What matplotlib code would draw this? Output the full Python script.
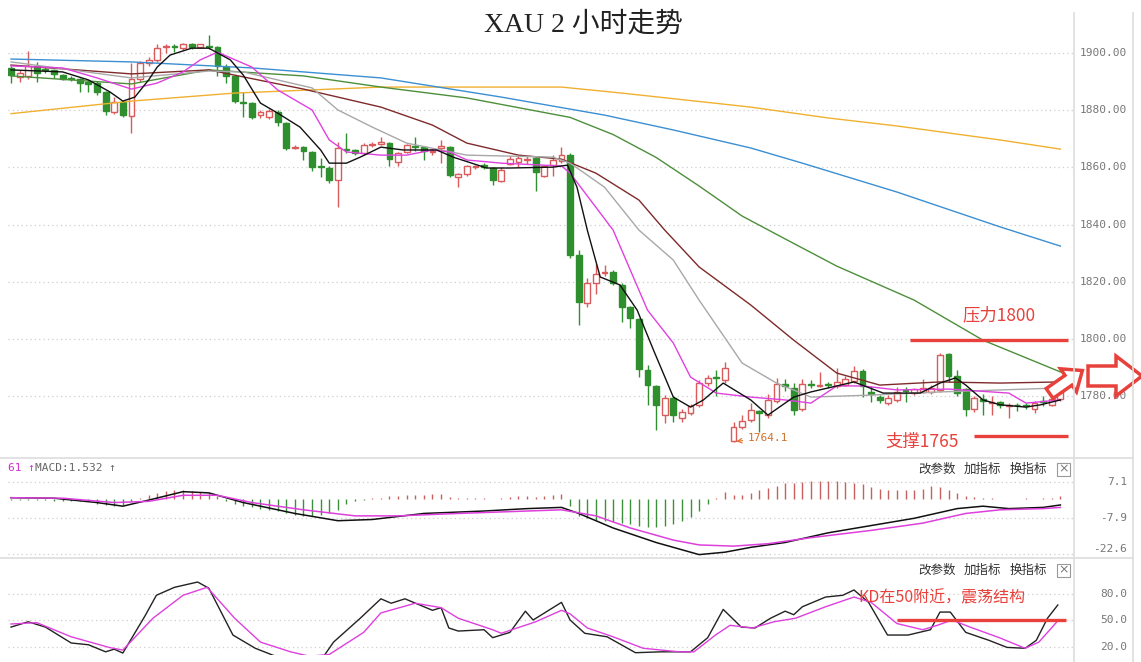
import numpy as np
import matplotlib.pyplot as plt
from matplotlib.patches import Polygon, Rectangle
from matplotlib.lines import Line2D
import matplotlib.transforms as mtransforms

# ---- candles (2h bars) ----
opens = [1894.8, 1891.5, 1892.0, 1895.5, 1894.2, 1894.0, 1892.3, 1891.2, 1890.9, 1889.9,
         1889.5, 1886.4, 1879.3, 1882.9, 1878.0, 1890.9, 1896.5, 1897.6, 1902.0, 1902.2,
         1901.7, 1903.1, 1902.1, 1902.3, 1902.1, 1895.2, 1891.8, 1883.0, 1882.6, 1878.3,
         1877.6, 1879.3, 1875.5, 1866.9, 1867.0, 1865.3, 1860.4, 1859.8, 1855.6, 1866.5,
         1866.1, 1865.0, 1867.8, 1868.2, 1868.5, 1862.0, 1865.3, 1867.4, 1867.1, 1865.5,
         1866.7, 1867.1, 1856.8, 1857.6, 1860.0, 1861.0, 1859.8, 1855.3, 1861.2, 1861.9,
         1862.6, 1863.2, 1857.0, 1860.8, 1862.3, 1864.5, 1829.4, 1812.6, 1819.6, 1823.2,
         1823.5, 1818.9, 1811.2, 1807.0, 1789.1, 1783.7, 1773.4, 1779.4, 1772.4, 1774.1,
         1777.0, 1784.7, 1786.6, 1785.7, 1764.3, 1769.2, 1771.7, 1774.8, 1773.4, 1778.4,
         1784.4, 1782.9, 1775.5, 1784.4, 1783.7, 1784.4, 1783.7, 1783.9, 1785.3, 1788.8,
         1781.6, 1779.7, 1777.6, 1778.7, 1782.3, 1781.2, 1781.6, 1781.5, 1782.3, 1794.8,
         1787.1, 1782.6, 1775.5, 1779.0, 1777.5, 1778.0, 1776.5, 1777.1, 1777.0, 1775.5,
         1778.3, 1777.0, 1779.0]
highs = [1895.5, 1894.0, 1900.8, 1897.0, 1895.0, 1894.5, 1892.8, 1891.8, 1891.2, 1890.5,
         1890.2, 1886.8, 1884.6, 1883.6, 1896.5, 1897.3, 1898.5, 1903.1, 1903.1, 1903.0,
         1903.5, 1903.5, 1903.3, 1906.2, 1902.5, 1896.0, 1892.2, 1886.4, 1883.0, 1880.0,
         1880.5, 1880.0, 1876.0, 1867.8, 1867.5, 1865.8, 1863.3, 1860.5, 1868.9, 1872.0,
         1866.5, 1868.5, 1869.0, 1870.5, 1869.0, 1865.5, 1868.2, 1870.5, 1867.5, 1866.8,
         1869.5, 1867.5, 1858.0, 1861.0, 1861.0, 1861.5, 1860.2, 1860.2, 1864.0, 1864.0,
         1864.0, 1863.6, 1861.0, 1864.5, 1867.0, 1865.0, 1831.0, 1821.3, 1826.2, 1826.0,
         1824.0, 1819.5, 1811.5, 1807.5, 1791.0, 1784.0, 1780.5, 1780.0, 1775.5, 1777.3,
         1785.5, 1787.5, 1789.0, 1792.0, 1771.0, 1773.3, 1777.7, 1775.2, 1780.7, 1786.4,
         1786.0, 1784.5, 1786.0, 1785.5, 1788.5, 1785.0, 1790.0, 1787.0, 1790.6, 1789.5,
         1783.5, 1780.5, 1780.5, 1783.4, 1783.3, 1783.0, 1786.0, 1784.0, 1795.0, 1795.2,
         1789.0, 1783.0, 1780.0, 1780.8, 1780.0, 1778.5, 1777.5, 1777.8, 1777.5, 1778.5,
         1780.0, 1781.5, 1784.0]
lows = [1889.5, 1890.0, 1890.9, 1890.0, 1893.0, 1891.2, 1890.5, 1890.2, 1886.4, 1886.4,
        1885.3, 1878.3, 1878.6, 1877.5, 1872.0, 1890.0, 1895.5, 1897.0, 1900.0, 1900.5,
        1901.0, 1901.5, 1901.7, 1901.5, 1892.0, 1889.5, 1882.5, 1877.6, 1877.0, 1877.2,
        1877.0, 1874.5, 1866.1, 1866.4, 1862.6, 1858.6, 1856.6, 1854.5, 1846.2, 1865.0,
        1864.5, 1864.5, 1867.0, 1867.8, 1860.5, 1860.5, 1865.0, 1865.7, 1862.6, 1864.4,
        1861.5, 1856.5, 1853.0, 1857.0, 1859.5, 1859.5, 1854.0, 1854.8, 1860.8, 1860.0,
        1861.3, 1851.7, 1856.6, 1857.0, 1861.5, 1828.3, 1804.9, 1811.2, 1815.7, 1822.0,
        1819.0, 1806.0, 1803.8, 1786.7, 1777.0, 1768.2, 1770.6, 1771.0, 1771.0, 1773.4,
        1776.3, 1783.5, 1780.0, 1784.5, 1764.1, 1768.5, 1771.0, 1767.5, 1772.5, 1777.7,
        1782.0, 1773.4, 1774.8, 1783.0, 1783.3, 1783.0, 1783.0, 1783.5, 1784.5, 1779.7,
        1778.0, 1777.7, 1776.8, 1778.0, 1778.0, 1780.5, 1781.0, 1780.8, 1781.5, 1785.0,
        1780.0, 1773.0, 1774.5, 1773.5, 1773.5, 1776.0, 1772.5, 1775.0, 1775.6, 1774.2,
        1776.5, 1776.5, 1778.5]
closes = [1892.3, 1893.0, 1895.5, 1893.0, 1894.0, 1892.6, 1890.9, 1890.8, 1889.6, 1889.0,
          1886.4, 1879.7, 1882.9, 1878.3, 1891.0, 1896.5, 1897.6, 1901.7, 1902.1, 1902.0,
          1903.1, 1902.1, 1903.0, 1902.0, 1895.5, 1892.1, 1883.4, 1882.6, 1877.6, 1879.3,
          1879.7, 1875.9, 1866.8, 1867.3, 1865.7, 1860.1, 1860.1, 1855.6, 1866.8, 1866.1,
          1865.0, 1867.8, 1868.2, 1868.9, 1863.0, 1865.0, 1867.8, 1867.1, 1865.7, 1865.9,
          1867.4, 1857.3, 1857.6, 1860.4, 1860.4, 1860.1, 1855.6, 1859.1, 1862.9, 1863.3,
          1863.0, 1858.3, 1860.4, 1862.6, 1864.4, 1829.4, 1812.9, 1819.6, 1822.7, 1823.6,
          1819.6, 1811.2, 1807.4, 1789.5, 1784.0, 1777.0, 1779.4, 1773.4, 1774.5, 1776.6,
          1784.7, 1786.4, 1786.2, 1789.9, 1769.2, 1771.3, 1775.2, 1774.1, 1778.7, 1784.4,
          1783.7, 1775.2, 1784.3, 1784.0, 1784.0, 1784.0, 1785.0, 1786.0, 1788.8, 1783.7,
          1780.9, 1778.6, 1779.4, 1781.6, 1782.0, 1782.6, 1783.0, 1783.0, 1794.4, 1787.1,
          1781.2, 1775.6, 1779.4, 1778.4, 1778.0, 1777.0, 1776.9, 1776.8, 1776.7, 1777.8,
          1777.9, 1779.2, 1782.0]

# ---- moving averages (bar index, price) ----
ma5_idx = [0, 6, 9, 11.5, 13, 14.4, 16, 17, 18.5, 21, 23, 25.5, 27, 29, 31, 33.6, 36, 37, 39,
           40.6, 43, 45.6, 49.5, 51.4, 55.3, 58, 63, 64.7, 65.8, 67, 68.5, 70.8, 72.8, 74.7,
           77, 79, 80.5, 82.8, 86, 88, 91, 93, 98, 101.4, 103.4, 105.7, 108, 109.8, 111, 113,
           115, 118, 119.7, 122]
ma5_val = [1894.1, 1893.4, 1890.6, 1886.4, 1883.2, 1884.6, 1890.6, 1895.1, 1899.3, 1901.7,
           1901.7, 1897.6, 1892.3, 1882.5, 1879.0, 1874.1, 1866.1, 1861.5, 1861.5, 1863.6,
           1867.1, 1866.1, 1866.1, 1863.6, 1859.8, 1859.8, 1860.1, 1860.8, 1853.1, 1838.1,
           1821.7, 1818.9, 1810.1, 1796.1, 1779.7, 1776.2, 1778.7, 1784.6, 1778.7, 1773.4,
           1779.7, 1781.5, 1785.0, 1781.1, 1781.1, 1781.1, 1784.6, 1786.4, 1783.9, 1778.7,
           1777.0, 1776.2, 1777.0, 1778.7]
ma10_idx = [0, 6, 10, 14, 17, 20, 22, 24, 28, 31, 35, 37, 39, 43, 46, 49, 51, 53, 57, 64, 65,
            70, 71, 74, 77, 79, 82, 86, 90, 93, 96, 99, 103, 109, 116, 118, 122]
ma10_val = [1895.5, 1894.8, 1891.3, 1887.4, 1889.5, 1893.4, 1897.6, 1900.3, 1895.1, 1887.1,
            1880.1, 1869.6, 1865.4, 1864.3, 1864.3, 1866.1, 1865.4, 1862.6, 1861.5, 1860.5,
            1858.0, 1838.1, 1831.1, 1810.1, 1798.6, 1786.7, 1781.1, 1779.7, 1778.7, 1777.6,
            1783.6, 1783.6, 1782.2, 1782.5, 1781.1, 1777.6, 1778.7]
ma20_idx = [0, 14, 23, 27, 35, 38, 42, 46, 53, 63, 65, 69, 73, 77, 80, 85, 89, 93, 100, 108,
            115, 122]
ma20_val = [1896.9, 1891.3, 1893.7, 1893.4, 1887.8, 1880.1, 1874.1, 1868.5, 1864.3, 1863.6,
            1861.5, 1853.1, 1838.1, 1827.6, 1813.6, 1791.6, 1784.6, 1779.7, 1780.4, 1781.5,
            1782.2, 1782.9]
ma30_idx = [0, 14, 23, 34, 43, 49, 53, 59, 64, 68, 73, 76, 80, 86, 91, 96, 101, 108, 115, 122]
ma30_val = [1895.8, 1892.7, 1894.1, 1887.4, 1881.1, 1874.8, 1868.5, 1864.3, 1862.9, 1858.0,
            1848.6, 1838.1, 1825.2, 1811.9, 1799.6, 1788.1, 1783.9, 1785.0, 1784.6, 1785.0]
ma60_idx = [0, 14, 23, 34, 43, 53, 65, 70, 75, 80, 85, 90, 96, 105, 113, 122]
ma60_val = [1892.0, 1889.2, 1894.1, 1892.0, 1888.1, 1884.3, 1877.5, 1871.5, 1863.5, 1853.5,
            1843.0, 1835.0, 1825.5, 1813.6, 1799.6, 1788.5]
ma120_idx = [0, 14, 28, 43, 57, 69, 77, 86, 92, 103, 115, 122]
ma120_val = [1897.9, 1896.9, 1894.8, 1891.3, 1884.6, 1878.3, 1873.1, 1866.8, 1861.5, 1851.4,
             1839.2, 1832.5]
ma250_idx = [0, 14, 26, 43, 64, 71, 86, 95, 103, 115, 122]
ma250_val = [1878.8, 1883.2, 1886.0, 1888.1, 1888.1, 1886.0, 1881.1, 1877.3, 1874.5, 1869.6,
             1866.4]

# ---- MACD ----
macd_hist = [-0.3, -0.4, -0.5, -0.5, -0.6, -0.7, -0.8, -0.8, -0.9, -1.0,
             -2.0, -2.5, -2.8, -2.5, -1.0,
             0.5, 1.5, 2.5, 3.2, 3.5, 3.5, 3.3, 3.0, 2.5, 1.2,
             -1.0, -2.0, -3.0, -3.5, -4.0, -4.5, -5.0, -6.0, -6.5, -7.0, -7.0, -6.5, -6.0,
             -4.5, -2.0, -1.0, -0.3,
             0.2, 0.3, 1.0, 1.2, 1.5, 1.5, 1.8, 2.0, 2.0, 0.8, 0.3, 0.2, 0.3, 0.2, 0.1, 0.5,
             0.8, 1.0, 1.2, 0.8, 1.2, 1.5, 2.0,
             -3.0, -7.0, -8.0, -8.5, -9.0, -9.5, -10.0, -10.5, -11.0, -11.5, -11.5, -11.0,
             -10.5, -9.0, -7.5, -5.0, -2.0, 0.3,
             3.0, 1.8, 1.8, 2.3, 3.5, 4.5, 5.5, 6.5, 6.5, 7.0, 7.5, 7.5, 7.5, 7.5, 7.0, 6.5,
             6.0, 5.0, 4.0, 3.8, 3.8, 3.8, 3.8, 4.3, 5.2, 5.0, 3.8, 2.3, 1.2, 0.8, 0.3, 0.2,
             0.1, 0.0, 0.0, 0.3, 0.0, 0.5, 0.5, 1.3]
dif_idx = [0, 5, 10, 13, 16, 20, 23, 27, 33, 38, 42, 48, 55, 60, 64, 66, 70, 75, 78, 80, 83,
           86, 90, 95, 100, 105, 110, 113, 116, 120, 122]
dif_val = [0.5, 0.3, -1.5, -3.0, -0.5, 3.0, 2.5, -1.5, -6.0, -9.0, -8.5, -6.0, -5.0, -4.0,
           -3.5, -6.0, -12.0, -18.0, -21.0, -23.0, -22.0, -20.0, -18.0, -14.0, -11.0, -8.0,
           -4.0, -3.0, -4.0, -3.5, -2.5]
dea_idx = [0, 6, 12, 16, 20, 24, 28, 34, 40, 45, 52, 60, 64, 68, 72, 77, 80, 84, 88, 93, 100,
           106, 111, 115, 120, 122]
dea_val = [0.5, 0.3, -1.5, -1.0, 1.5, 1.5, -1.5, -4.5, -7.0, -7.0, -6.0, -5.0, -4.5, -7.0,
           -12.0, -17.0, -19.0, -19.5, -18.5, -16.0, -13.0, -10.0, -6.0, -4.5, -4.0, -3.5]

# ---- KD ----
k_idx = [0, 2, 4, 7, 9, 11, 12, 13, 15.6, 16.9, 19, 21.7, 23, 25.8, 28.4, 30.5, 33, 36, 37.5,
         40.6, 43, 44.2, 45.8, 49, 50, 50.9, 52, 55, 56, 58, 59.8, 60.7, 64, 65, 66.7, 69.3,
         72.6, 75.6, 79, 81, 82.8, 84.9, 86.5, 88.3, 90, 91, 92, 94.7, 96.7, 98, 99.7, 101.9,
         104.3, 106.9, 108, 109.2, 111, 113.7, 115.8, 117.9, 119.2, 120.5, 121.7]
k_val = [42, 48, 42, 24, 22, 14, 17, 12.6, 55, 78, 87, 93, 86, 33, 18, 10, 4, 4, 25, 52, 74,
         69, 74, 61, 64, 41, 37.5, 39, 30, 36, 60, 50, 70, 50, 35, 31, 13, 14, 14, 30, 62, 42,
         41, 52, 60, 56, 65, 76, 78, 84, 70, 33, 33, 39, 59, 59, 36, 27, 19, 18, 27, 52, 67]
d_idx = [0, 3, 7, 11.4, 13, 16.5, 20, 22.8, 26, 29, 32.5, 34.7, 37, 41, 43, 47, 50, 52, 56,
         57, 61, 64, 65, 67, 70, 73.5, 77.7, 79.4, 81.9, 83.6, 86.2, 88.7, 91.2, 94.7, 98, 100,
         103, 106, 107.7, 109.4, 111.5, 114.9, 117.9, 119.5, 121.6]
d_val = [45.5, 47, 31, 19, 16, 52, 78, 87, 52, 25, 14, 9, 11, 36, 58, 69, 64, 52, 39, 35, 48,
         61, 57, 41, 31, 18, 14, 14, 33, 44, 41, 48, 52, 65, 76, 70, 46, 39, 44, 50, 42, 30,
         18, 25, 48]

price_ticks = [1900, 1880, 1860, 1840, 1820, 1800, 1780]
macd_ticks = [7.1, -7.9, -22.6]
kd_ticks = [80, 50, 20]
resistance = 1799.5
support = 1766
low_mark = 1764.1

W, H = 1141, 662
def fx(px):
    return px / W
def fy(py):
    return 1 - py / H

RED = '#e8403a'
UPC = '#d95b5b'
DNC = '#2f8f2f'
GRID = '#cfcfcf'
LBL = '#777777'
XL = (-0.35, 123.7)

fig = plt.figure(figsize=(11.41, 6.62), dpi=100)
ax = fig.add_axes([fx(8), fy(458), fx(1075) - fx(8), fy(13) - fy(458)])
ax2 = fig.add_axes([fx(8), fy(558), fx(1075) - fx(8), fy(458) - fy(558)])
ax3 = fig.add_axes([fx(8), fy(655), fx(1075) - fx(8), fy(558) - fy(655)])

for a in (ax, ax2, ax3):
    a.set_xlim(*XL)
    a.set_xticks([])
    a.set_yticks([])
    for s in a.spines.values():
        s.set_visible(False)
    a.patch.set_alpha(0)

ax.set_ylim(1758.4, 1914.0)
ax2.set_ylim(-24.4, 16.9)
ax3.set_ylim(10.4, 120.2)

def right_labels(a, ticks, fmt, last_bottom=False):
    tr = mtransforms.blended_transform_factory(fig.transFigure, a.transData)
    for j, t in enumerate(ticks):
        a.axhline(t, color=GRID, lw=0.9, ls=(0, (1, 2.5)), zorder=0)
        va = 'bottom' if (last_bottom and j == len(ticks) - 1) else 'center'
        a.text(fx(1127), t, fmt.format(t), transform=tr, ha='right', va=va,
               fontsize=8, family='DejaVu Sans Mono', color=LBL, clip_on=False)

right_labels(ax, price_ticks, '{:.2f}')
right_labels(ax2, macd_ticks, '{:.1f}', last_bottom=True)
right_labels(ax3, kd_ticks, '{:.1f}')

# candles
x = np.arange(len(opens))
o, h, l, c = (np.array(v) for v in (opens, highs, lows, closes))
up = c >= o
edge = np.where(up, UPC, DNC)
face = np.where(up, 'white', DNC)
ax.vlines(x, l, h, colors=edge, lw=1.0, zorder=2)
ax.bar(x, np.maximum(np.abs(c - o), 0.3), bottom=np.minimum(o, c), width=0.68,
       color=face, edgecolor=edge, lw=1.0, zorder=3)

for idx, val, col in [(ma250_idx, ma250_val, '#f0b030'), (ma120_idx, ma120_val, '#3b8fd2'),
                      (ma60_idx, ma60_val, '#4c8f3a'), (ma30_idx, ma30_val, '#7f2a2a'),
                      (ma20_idx, ma20_val, '#a8a8a8'), (ma10_idx, ma10_val, '#e040e0'),
                      (ma5_idx, ma5_val, '#111111')]:
    ax.plot(idx, val, color=col, lw=1.0, zorder=4)

ax.hlines(resistance, 104.5, 122.9, color=RED, lw=2.4, zorder=5)
ax.hlines(support, 111.9, 122.9, color=RED, lw=2.4, zorder=5)
ax.text(110.6, 1808.4, '压力1800', color=RED, fontsize=12.5, family='Noto Sans CJK SC',
        ha='left', va='center')
ax.text(101.7, 1764.0, '支撑1765', color=RED, fontsize=12.5, family='Noto Sans CJK SC',
        ha='left', va='center')
ax.annotate(f'{low_mark}', xy=(84, low_mark), xytext=(85.7, 1765.5), color='#d0702a',
            fontsize=8, family='DejaVu Sans Mono', va='center',
            arrowprops=dict(arrowstyle='->', color='#e07020', lw=0.8))

# MACD
hc = ['#c96060' if v >= 0 else '#3c8f3c' for v in macd_hist]
ax2.vlines(x, 0, macd_hist, colors=hc, lw=1.0, zorder=2)
ax2.plot(dif_idx, dif_val, color='#111111', lw=1.1, zorder=3)
ax2.plot(dea_idx, dea_val, color='#dd40dd', lw=1.1, zorder=3)

# KD
ax3.plot(k_idx, k_val, color='#222222', lw=1.0, zorder=3)
ax3.plot(d_idx, d_val, color='#dd40dd', lw=1.0, zorder=3)
ax3.hlines(50, 103, 122.6, color=RED, lw=2.4, zorder=4)
ax3.text(98.5, 75, 'KD在50附近，震荡结构', color=RED, fontsize=11.5,
         family='Noto Sans CJK SC', ha='left', va='center')

# frame lines
for px0, py0, px1, py1 in [(1074, 13, 1074, 662), (1133, 13, 1133, 662),
                           (0, 458, 1133, 458), (0, 558, 1133, 558)]:
    fig.add_artist(Line2D([fx(px0), fx(px1)], [fy(py0), fy(py1)], color='#dddddd', lw=1.2))

# title and panel headers
fig.text(fx(583), fy(25), 'XAU 2 小时走势', ha='center', va='center', fontsize=20,
         family=['Liberation Serif', 'Noto Sans CJK SC'], color='#222222')
fig.text(fx(8), fy(468), '61 ↑', color='#d030d0', fontsize=8, family='DejaVu Sans Mono',
         va='center')
fig.text(fx(35), fy(468), 'MACD:1.532 ↑', color='#666666', fontsize=8,
         family='DejaVu Sans Mono', va='center')
for py in (469, 570):
    for px, t in [(918, '改参数'), (964, '加指标'), (1010, '换指标')]:
        fig.text(fx(px), fy(py), t, fontsize=9, family='Noto Sans CJK SC', color='#333333',
                 va='center')
    fig.add_artist(Rectangle((fx(1057), fy(py + 7)), fx(13), 13 / H, transform=fig.transFigure,
                             fill=False, edgecolor='#999999', lw=0.8))
    fig.text(fx(1063.5), fy(py), '×', fontsize=9, color='#777777', ha='center', va='center')

# hollow arrows on the right
def arrow_poly(cx, cy, length, shaft, head, head_len, ang):
    pts = np.array([[-length / 2, -shaft], [length / 2 - head_len, -shaft],
                    [length / 2 - head_len, -head], [length / 2, 0],
                    [length / 2 - head_len, head], [length / 2 - head_len, shaft],
                    [-length / 2, shaft]])
    a = np.deg2rad(ang)
    rot = np.array([[np.cos(a), -np.sin(a)], [np.sin(a), np.cos(a)]])
    pts = pts @ rot.T
    return [(fx(cx + px), fy(cy - py)) for px, py in pts]

fig.add_artist(Polygon(arrow_poly(1066, 382, 40, 6, 14, 17, 35), closed=True,
                       transform=fig.transFigure, facecolor='white', edgecolor=RED, lw=2.5))
fig.add_artist(Polygon(arrow_poly(1115, 376, 54, 10, 20, 26, 0), closed=True,
                       transform=fig.transFigure, facecolor='white', edgecolor=RED, lw=2.5))

fig.savefig('out.png', dpi=100)
